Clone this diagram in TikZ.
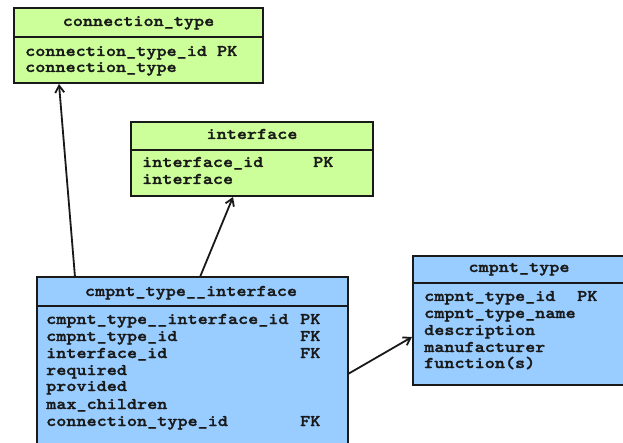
\documentclass[tikz,border=0pt]{standalone}
\usepackage{fontspec}
\newfontfamily\ermono[Extension=.otf, FakeStretch=1.18, FakeBold=1.6]{lmmonolt10-bold}
\usetikzlibrary{arrows.meta,calc}
\definecolor{ergreen}{RGB}{204,255,153}
\definecolor{erblue}{RGB}{153,204,255}
\definecolor{erline}{RGB}{25,25,25}
\tikzset{
  tbl/.style={draw=erline, line width=2.2pt, anchor=north west, inner sep=0pt, outer sep=0pt},
  greentbl/.style={tbl, fill=ergreen},
  bluetbl/.style={tbl, fill=erblue},
  txt/.style={font=\ermono\fontsize{16.3}{17}\selectfont, inner sep=0pt, text=black!90},
  hdr/.style={txt, anchor=base},
  row/.style={txt, anchor=base west},
  sepline/.style={line width=2.2pt, draw=erline},
  rel/.style={line width=1.8pt, draw=erline, -{Straight Barb[length=7pt,width=9pt,line width=1.8pt]}}
}
\begin{document}
\begin{tikzpicture}[x=1pt,y=-1pt]
\useasboundingbox (0,0) rectangle (623,443);
\clip (0,0) rectangle (623,443);
\fill[white] (0,0) rectangle (623,443);

% connection_type
\node[greentbl, minimum width=249pt, minimum height=75pt] (ct) at (14,8) {};
\draw[sepline] (14,37) -- (263,37);
\node[hdr] (cth) at (138.5,26) {connection\_type};
\node[row] (ctr1) at (25,56) {connection\_type\_id PK};
\node[row] (ctr2) at (25,72) {connection\_type};

% interface
\node[greentbl, minimum width=242pt, minimum height=74pt] (if) at (131,122) {};
\draw[sepline] (131,150) -- (373,150);
\node[hdr] (ifh) at (252,139) {interface};
\node[row] (ifr1) at (142,167) {interface\_id};
\node[row] (ifk1) at (313,167) {PK};
\node[row] (ifr2) at (142,184) {interface};

% cmpnt_type__interface
\node[bluetbl, minimum width=311pt, minimum height=185pt] (cti) at (37,277) {};
\draw[sepline] (37,306) -- (348,306);
\node[hdr] (ctih) at (191,296) {cmpnt\_type\_\_interface};
\node[row] (ctir1) at (46,324) {cmpnt\_type\_\_interface\_id};
\node[row] (ctik1) at (300,324) {PK};
\node[row] (ctir2) at (46,341) {cmpnt\_type\_id};
\node[row] (ctik2) at (300,341) {FK};
\node[row] (ctir3) at (46,358) {interface\_id};
\node[row] (ctik3) at (300,358) {FK};
\node[row] (ctir4) at (46,375) {required};
\node[row] (ctir5) at (46,391) {provided};
\node[row] (ctir6) at (46,409) {max\_children};
\node[row] (ctir7) at (46,426) {connection\_type\_id};
\node[row] (ctik7) at (300,426) {FK};

% cmpnt_type
\node[bluetbl, minimum width=225pt, minimum height=129pt] (cmt) at (413,256) {};
\draw[sepline] (413,283) -- (640,283);
\node[hdr] (cmth) at (519,272) {cmpnt\_type};
\node[row] (cmtr1) at (424,301) {cmpnt\_type\_id};
\node[row] (cmtk1) at (577,301) {PK};
\node[row] (cmtr2) at (424,318) {cmpnt\_type\_name};
\node[row] (cmtr3) at (424,335) {description};
\node[row] (cmtr4) at (424,352) {manufacturer};
\node[row] (cmtr5) at (424,368) {function(s)};

% relationships
\coordinate (a1s) at ($(cti.north west)+(38,0)$);
\coordinate (a1e) at ($(ct.south west)+(45,1)$);
\coordinate (a2s) at ($(cti.north west)+(163,0)$);
\coordinate (a2e) at ($(if.south west)+(102,1)$);
\coordinate (a3s) at ($(cti.north east)+(0,97)$);
\coordinate (a3e) at ($(cmt.north west)+(-1,81)$);
\draw[rel] (a1s) -- (a1e);
\draw[rel] (a2s) -- (a2e);
\draw[rel] (a3s) -- (a3e);
\end{tikzpicture}
\end{document}
